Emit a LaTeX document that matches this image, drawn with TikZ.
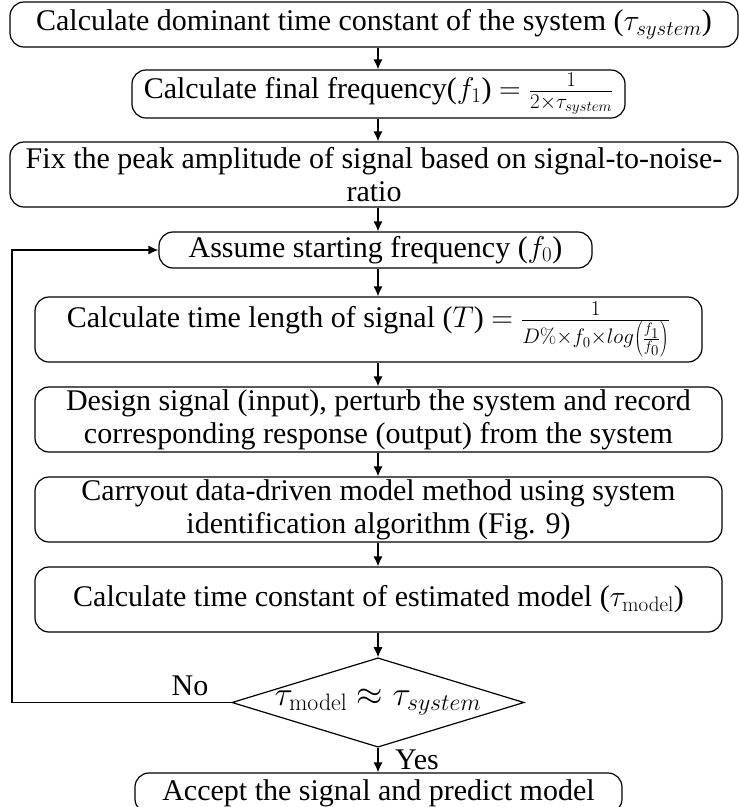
\RequirePackage{fix-cm}
\documentclass[tikz,border=0pt]{standalone}
\usepackage[no-math]{fontspec}
\setmainfont{Liberation Serif}
\usetikzlibrary{shapes.geometric,arrows.meta}
\tikzset{
  box/.style={draw, rounded corners=14pt, line width=1.2pt, align=center, inner sep=0pt,
    font=\fontsize{30}{33}\selectfont},
  decision/.style={draw, diamond, line width=1.2pt, inner sep=0pt, aspect=3.27,
    minimum width=291pt, minimum height=89pt, font=\fontsize{34}{37}\selectfont},
  lbl/.style={font=\fontsize{30}{33}\selectfont, inner sep=0pt},
  arr/.style={-{Latex[length=10pt,width=9pt]}, line width=1.2pt}
}
\begin{document}
\begin{tikzpicture}[x=1pt,y=-1pt]
\useasboundingbox (0,0) rectangle (739,807);
\node[box, minimum width=728pt, minimum height=45pt] (b1) at (374,24.5)
  {Calculate dominant time constant of the system ($\tau_{system}$)};
\node[box, minimum width=493pt, minimum height=48pt] (b2) at (378.5,94)
  {Calculate final frequency($f_1$) $=\frac{1}{2\times\tau_{system}}$};
\node[box, minimum width=728pt, minimum height=65pt] (b3) at (374,174.5)
  {Fix the peak amplitude of signal based on signal-to-noise-\\ratio};
\node[box, minimum width=433pt, minimum height=36pt] (b4) at (375.5,250)
  {Assume starting frequency ($f_0$)};
\node[box, minimum width=667pt, minimum height=65pt] (b5) at (368.5,329.5)
  {Calculate time length of signal ($T$) $=\frac{1}{D\%\times f_0\times log\left(\frac{f_1}{f_0}\right)}$};
\node[box, minimum width=687pt, minimum height=65pt] (b6) at (378.5,419.5)
  {Design signal (input), perturb the system and record\\corresponding response (output) from the system};
\node[box, minimum width=687pt, minimum height=65pt] (b7) at (378.5,509.5)
  {Carryout data-driven model method using system\\identification algorithm (Fig. 9)};
\node[box, minimum width=687pt, minimum height=65pt] (b8) at (378.5,599.5)
  {Calculate time constant of estimated model ($\tau_{\mathrm{model}}$)};
\node[decision] (d) at (378,702.5) {$\tau_{\mathrm{model}}\approx\tau_{system}$};
\node[box, minimum width=487pt, minimum height=40pt] (b9) at (378.5,793)
  {Accept the signal and predict model};
\node[lbl] (no) at (190,686) {No};
\node[lbl] (yes) at (417,760) {Yes};
\coordinate (lp) at (12,250);
\draw[arr] (b1.south -| d.north) -- (b2.north -| d.north);
\draw[arr] (b2.south -| d.north) -- (b3.north -| d.north);
\draw[arr] (b3.south -| d.north) -- (b4.north -| d.north);
\draw[arr] (b4.south -| d.north) -- (b5.north -| d.north);
\draw[arr] (b5.south -| d.north) -- (b6.north -| d.north);
\draw[arr] (b6.south -| d.north) -- (b7.north -| d.north);
\draw[arr] (b7.south -| d.north) -- (b8.north -| d.north);
\draw[arr] (b8.south -| d.north) -- (d.north);
\draw[arr] (d.south) -- (b9.north -| d.south);
\draw[arr] (d.west) -- (d.west -| lp) -- (lp) -- (b4.west);
\end{tikzpicture}
\end{document}
